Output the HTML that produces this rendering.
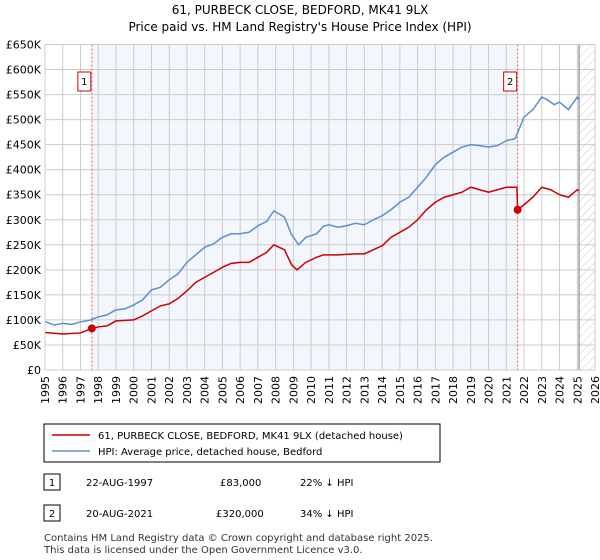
<!DOCTYPE html>
<html><head><meta charset="utf-8"><style>
body{margin:0;background:#fff;font-family:"Liberation Sans","DejaVu Sans",sans-serif;}
#wrap{position:relative;width:600px;height:560px;overflow:hidden;}
svg text{font-family:"DejaVu Sans","Liberation Sans",sans-serif;}
</style></head><body>
<div id="wrap">
<svg id="chart" width="600" height="560">
<defs><pattern id="hatch" width="6" height="6" patternUnits="userSpaceOnUse" patternTransform="rotate(45)"><line x1="0" y1="0" x2="0" y2="6" stroke="#bbb" stroke-width="0.8"/></pattern></defs>
<text x="300" y="14" text-anchor="middle" font-size="12">61, PURBECK CLOSE, BEDFORD, MK41 9LX</text>
<text x="300" y="31" text-anchor="middle" font-size="12">Price paid vs. HM Land Registry's House Price Index (HPI)</text>
<g id="plot"></g>
<rect x="44" y="424" width="396" height="38" fill="#fff" stroke="#000" stroke-width="1"/>
<line x1="52" y1="435" x2="90" y2="435" stroke="#cc0000" stroke-width="1.5"/>
<text x="98" y="439" font-size="10">61, PURBECK CLOSE, BEDFORD, MK41 9LX (detached house)</text>
<line x1="52" y1="451" x2="90" y2="451" stroke="#5b8fd0" stroke-width="1.5"/>
<text x="98" y="455" font-size="10">HPI: Average price, detached house, Bedford</text>
<rect x="44" y="474" width="16" height="16" fill="#fff" stroke="#000"/>
<text x="52" y="486" text-anchor="middle" font-size="10">1</text>
<text x="86" y="486" font-size="10">22-AUG-1997</text>
<text x="220" y="486" font-size="10">£83,000</text>
<text x="300" y="486" font-size="10">22% ↓ HPI</text>
<rect x="44" y="505" width="16" height="16" fill="#fff" stroke="#000"/>
<text x="52" y="517" text-anchor="middle" font-size="10">2</text>
<text x="86" y="517" font-size="10">20-AUG-2021</text>
<text x="216" y="517" font-size="10">£320,000</text>
<text x="300" y="517" font-size="10">34% ↓ HPI</text>
<text x="44" y="541" font-size="10" fill="#333">Contains HM Land Registry data © Crown copyright and database right 2025.</text>
<text x="44" y="553" font-size="10" fill="#333">This data is licensed under the Open Government Licence v3.0.</text>
</svg>
</div>
<script>
const hpiYears=[1995,1995.5,1996,1996.5,1997,1997.5,1998,1998.5,1999,1999.5,2000,2000.5,2001,2001.5,2002,2002.5,2003,2003.5,2004,2004.5,2005,2005.5,2006,2006.5,2007,2007.5,2007.9,2008.5,2008.9,2009.3,2009.7,2010.3,2010.7,2011,2011.5,2012,2012.5,2013,2013.5,2014,2014.5,2015,2015.5,2016,2016.5,2017,2017.5,2018,2018.5,2019,2019.5,2020,2020.5,2021,2021.5,2022,2022.5,2023,2023.3,2023.7,2024,2024.5,2025,2025.1];
const hpiValues=[97,90,93,91,96,99,106,110,120,122,130,140,160,165,180,192,215,230,245,252,265,272,272,275,288,297,318,305,270,250,265,272,287,290,285,288,293,290,300,308,320,335,345,365,385,410,425,435,445,450,448,445,448,458,462,505,520,545,540,530,535,520,545,540];
const propYears=[1995,1996,1997,1997.64,1998,1998.5,1999,2000,2000.5,2001,2001.5,2002,2002.5,2003,2003.5,2004,2004.5,2005,2005.5,2006,2006.5,2007,2007.5,2007.9,2008.5,2008.9,2009.2,2009.7,2010.3,2010.7,2011.5,2012.5,2013,2013.5,2014,2014.5,2015,2015.5,2016,2016.5,2017,2017.5,2018,2018.5,2019,2019.5,2020,2020.5,2021,2021.6,2021.64,2022,2022.5,2023,2023.5,2024,2024.5,2025,2025.1];
const propValues=[75,72,74,83,86,88,98,100,108,118,128,132,143,158,175,185,195,205,213,215,215,225,235,250,240,210,200,215,225,230,230,232,232,240,248,265,275,285,300,320,335,345,350,355,365,360,355,360,365,365,320,330,345,365,360,350,345,360,358];
const saleYears=[1997.64,2021.64];
const saleValues=[83,320];
const saleLabels=["1","2"];
const yTicks=[0,50,100,150,200,250,300,350,400,450,500,550,600,650];
const yTickLabels=["£0","£50K","£100K","£150K","£200K","£250K","£300K","£350K","£400K","£450K","£500K","£550K","£600K","£650K"];
const xTicks=[1995,1996,1997,1998,1999,2000,2001,2002,2003,2004,2005,2006,2007,2008,2009,2010,2011,2012,2013,2014,2015,2016,2017,2018,2019,2020,2021,2022,2023,2024,2025,2026];

const X0=45,X1=595,Y0=370,Y1=44.5;
const xs=y=>X0+(y-1995)/(2026-1995)*(X1-X0);
const ys=v=>Y0-v/650*(Y0-Y1);
const NS="http://www.w3.org/2000/svg";
const g=document.getElementById('plot');
function mk(t,a){const e=document.createElementNS(NS,t);for(const k in a)e.setAttribute(k,a[k]);g.appendChild(e);return e;}
let e;
e=mk('rect',{x:xs(saleYears[0]),y:Y1,width:xs(saleYears[1])-xs(saleYears[0]),height:Y0-Y1,fill:'#f3f6fd'});


e=mk('rect',{x:xs(2025.1),y:Y1,width:X1-xs(2025.1),height:Y0-Y1,fill:'url(#hatch)'});


yTicks.forEach((t,i)=>{
 e=mk('line',{x1:X0,x2:X1,y1:ys(t),y2:ys(t),stroke:'#cccccc','stroke-width':1});
 
 
 e=mk('text',{x:X0-4,y:ys(t)+4,'text-anchor':'end','font-size':11});
 e.textContent=yTickLabels[i];
 
 
});
xTicks.forEach(t=>{
 e=mk('line',{x1:xs(t),x2:xs(t),y1:Y1,y2:Y0,stroke:'#cccccc','stroke-width':1});
 
 
 e=mk('text',{x:0,y:0,'font-size':11,'text-anchor':'end',transform:`translate(${xs(t)+4},${Y0+6}) rotate(-90)`});
 e.textContent=t;
 
 
});
e=mk('line',{x1:xs(2025.1),x2:xs(2025.1),y1:Y1,y2:Y0,stroke:'#888','stroke-width':1.2});


saleYears.forEach((s,i)=>{
 e=mk('line',{x1:xs(s),x2:xs(s),y1:Y1,y2:Y0,stroke:'#ee5555','stroke-width':1,'stroke-dasharray':'2,2'});
 
 
});
e=mk('polyline',{points:hpiYears.map((y,i)=>xs(y)+','+ys(hpiValues[i])).join(' '),fill:'none',stroke:'#5b8fd0','stroke-width':1.5});


e=mk('polyline',{points:propYears.map((y,i)=>xs(y)+','+ys(propValues[i])).join(' '),fill:'none',stroke:'#cc0000','stroke-width':1.5});


saleYears.forEach((s,i)=>{
 e=mk('circle',{cx:xs(s),cy:ys(saleValues[i]),r:4,fill:'#cc0000'});
 
 
 e=mk('rect',{x:xs(s)-14,y:72,width:13,height:19,fill:'#fff',stroke:'#cc0000'});
 
 
 e=mk('text',{x:xs(s)-7.5,y:85,'text-anchor':'middle','font-size':10});
 e.textContent=saleLabels[i];
 
 
});
e=mk('rect',{x:X0,y:Y1,width:X1-X0,height:Y0-Y1,fill:'none',stroke:'#cccccc'});


</script>
</body></html>
